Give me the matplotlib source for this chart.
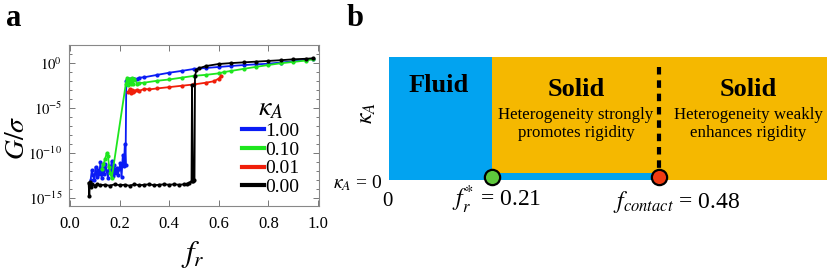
import numpy as np
import matplotlib
matplotlib.use("Agg")
import matplotlib.pyplot as plt
from matplotlib.ticker import FixedLocator, NullFormatter, FixedFormatter

plt.rcParams['font.family'] = ['Liberation Serif', 'DejaVu Serif']
plt.rcParams['mathtext.fontset'] = 'stix'

# ---------------- data (panel a): log10(G/sigma) vs f_r ----------------
kappa_labels = ["1.00", "0.10", "0.01", "0.00"]
series_colors = ["#0a1cf5", "#1ee61e", "#f01e0a", "#000000"]

fr_k100 = [0.083, 0.088, 0.093, 0.098, 0.103, 0.108, 0.113, 0.118, 0.123, 0.128,
           0.133, 0.138, 0.143, 0.148, 0.153, 0.158, 0.163, 0.168, 0.173, 0.178,
           0.183, 0.188, 0.193, 0.198, 0.203, 0.208, 0.213, 0.218, 0.221, 0.224,
           0.227, 0.229, 0.232, 0.236, 0.24, 0.245, 0.25, 0.26, 0.27, 0.28, 0.3,
           0.35, 0.4, 0.45, 0.5, 0.55, 0.6, 0.65, 0.7, 0.75, 0.8, 0.85, 0.9,
           0.95, 0.98]
lg_k100 = [-13.0, -11.9, -12.4, -13.0, -11.5, -12.6, -11.9, -12.3, -11.0, -12.8,
           -11.6, -12.3, -11.2, -12.0, -12.7, -11.4, -12.1, -10.9, -12.5, -11.3,
           -12.2, -11.6, -12.4, -11.8, -11.1, -12.6, -10.2, -11.4, -9.0, -11.3,
           -2.0, -1.85, -2.1, -1.8, -1.95, -1.75, -1.85, -1.7, -1.75, -1.6, -1.55,
           -1.3, -1.05, -0.85, -0.63, -0.52, -0.41, -0.3, -0.2, -0.12, -0.05,
           0.08, 0.22, 0.4, 0.52]

fr_k010 = [0.128, 0.135, 0.142, 0.148, 0.153, 0.158, 0.163, 0.168, 0.225, 0.23,
           0.235, 0.24, 0.245, 0.25, 0.255, 0.26, 0.27, 0.28, 0.3, 0.35, 0.4,
           0.45, 0.5, 0.55, 0.6, 0.62, 0.65, 0.7, 0.75, 0.8, 0.85, 0.9, 0.95, 0.98]
lg_k010 = [-11.8, -11.2, -10.6, -10.0, -10.3, -11.5, -12.2, -12.8, -2.3, -1.6,
           -2.4, -1.7, -2.3, -1.65, -2.3, -1.7, -2.25, -2.2, -2.15, -1.95, -1.8,
           -1.6, -1.4, -1.28, -1.12, -0.98, -0.85, -0.62, -0.4, -0.19, 0.0, 0.15,
           0.3, 0.45]

fr_k001 = [0.235, 0.24, 0.245, 0.25, 0.255, 0.26, 0.27, 0.28, 0.3, 0.32, 0.35,
           0.4, 0.45, 0.5, 0.55, 0.58, 0.6, 0.61]
lg_k001 = [-3.2, -2.9, -3.35, -3.0, -3.2, -3.05, -2.95, -3.05, -2.85, -2.9,
           -2.8, -2.65, -2.5, -2.35, -2.15, -2.0, -1.7, -1.4]

fr_k000 = [0.075, 0.078, 0.080, 0.083, 0.09, 0.1, 0.11, 0.12, 0.14, 0.16, 0.18,
           0.2, 0.22, 0.24, 0.26, 0.28, 0.3, 0.32, 0.34, 0.36, 0.38, 0.4, 0.42,
           0.44, 0.46, 0.47, 0.48, 0.49, 0.492, 0.496, 0.502, 0.504, 0.51, 0.52,
           0.55, 0.6, 0.65, 0.7, 0.75, 0.8, 0.85, 0.9, 0.95, 0.98]
lg_k000 = [-13.3, -14.8, -13.2, -13.7, -13.4, -13.6, -13.45, -13.55, -13.5,
           -13.6, -13.45, -13.55, -13.5, -13.6, -13.45, -13.55, -13.5, -13.45,
           -13.55, -13.5, -13.45, -13.5, -13.45, -13.5, -13.45, -13.4, -13.3,
           -13.1, -2.4, -13.1, -13.0, -1.4, -0.74, -0.55, -0.3, -0.08, 0.02,
           0.1, 0.18, 0.26, 0.34, 0.44, 0.5, 0.55]

# ---------------- data (panel b) ----------------
phase_names = ["Fluid", "Solid", "Solid"]
phase_notes = ["", "Heterogeneity strongly\npromotes rigidity",
               "Heterogeneity weakly\nenhances rigidity"]
fr_star = 0.21
f_contact = 0.48

W, H = 831, 272
fig = plt.figure(figsize=(W / 100, H / 100), dpi=100)


def fx(px):
    return px / W


def fy(py):
    return 1 - py / H


# ---------------- panel a ----------------
axl, axr, axt, axb = 69, 319, 45, 206
ax = fig.add_axes([fx(axl), fy(axb), fx(axr) - fx(axl), fy(axt) - fy(axb)])
all_fr = [fr_k100, fr_k010, fr_k001, fr_k000]
all_lg = [lg_k100, lg_k010, lg_k001, lg_k000]
for frs, lgs, col, lab in zip(all_fr, all_lg, series_colors, kappa_labels):
    ax.plot(frs, 10.0 ** np.array(lgs), '-o', color=col, lw=1.3, ms=3.0,
            mew=0, label=lab)
ax.set_yscale('log')
ax.set_xlim(-0.004, 1.004)
ax.set_ylim(10 ** -15.86, 10 ** 2.03)
ax.set_xticks([0.0, 0.2, 0.4, 0.6, 0.8, 1.0])
ax.set_xticklabels(["0.0", "0.2", "0.4", "0.6", "0.8", "1.0"])
ax.yaxis.set_major_locator(FixedLocator([1e-15, 1e-10, 1e-5, 1e0]))
ax.yaxis.set_major_formatter(FixedFormatter([r'$10^{-15}$', r'$10^{-10}$',
                                             r'$10^{-5}$', r'$10^{0}$']))
ax.yaxis.set_minor_locator(FixedLocator([10.0 ** k for k in range(-15, 3)]))
ax.yaxis.set_minor_formatter(NullFormatter())
ax.tick_params(which='both', direction='in', top=True, right=True,
               color='#777777', width=0.7)
ax.tick_params(axis='x', labelsize=12, pad=7)
ax.tick_params(axis='y', labelsize=10.5, pad=5)
ax.tick_params(which='major', length=4)
ax.tick_params(which='minor', length=2.5)
for sp in ax.spines.values():
    sp.set_color('#888888')
    sp.set_linewidth(0.8)
ax.set_xlabel(r'$f_r$', fontsize=22)
ax.set_ylabel(r'$G/\sigma$', fontsize=20)
ax.xaxis.set_label_coords((193 - axl) / (axr - axl), -(255 - axb) / (axb - axt))
ax.yaxis.set_label_coords(-(69 - 17) / (axr - axl), (axb - 138) / (axb - axt))
ax.xaxis.label.set_va('center')
ax.yaxis.label.set_va('center')

leg = ax.legend(title=r'$\kappa_A$', loc='lower right', fontsize=14,
                title_fontsize=20, frameon=False, handlelength=1.1,
                handletextpad=0.1, labelspacing=0.05, borderaxespad=0.2,
                bbox_to_anchor=(0.97, -0.01))
leg._legend_box.sep = 1
for h in leg.get_lines():
    h.set_linewidth(3)
    h.set_marker('')

fig.text(fx(14), fy(19), 'a', fontsize=22, fontweight='bold', ha='center',
         va='center')
fig.text(fx(355), fy(19), 'b', fontsize=22, fontweight='bold', ha='center',
         va='center')

# ---------------- panel b ----------------
bl, br, bt, bb = 389, 827, 57, 180
axb2 = fig.add_axes([fx(bl), fy(bb), fx(br) - fx(bl), fy(bt) - fy(bb)])
axb2.set_xlim(bl, br)
axb2.set_ylim(bb, bt)
axb2.axis('off')
blue = '#02a3f0'
gold = '#f5b800'
x_star, x_contact = 492, 659
axb2.add_patch(plt.Rectangle((bl, bt), br - bl, bb - bt, color=blue, lw=0))
axb2.add_patch(plt.Rectangle((x_star, bt), br - x_star, 173 - bt, color=gold,
                             lw=0))
axb2.add_patch(plt.Rectangle((x_contact, 173), br - x_contact, bb - 173,
                             color=gold, lw=0))
axb2.plot([x_contact, x_contact], [67, 173], color='black', lw=3,
          dashes=(1.8, 1.4))
axb2.plot([x_star], [176.5], 'o', ms=11, mfc='#5ec83c', mec='black', mew=1.6,
          clip_on=False, zorder=5)
axb2.plot([x_contact], [176.5], 'o', ms=11, mfc='#f03c12', mec='black',
          mew=1.6, clip_on=False, zorder=5)

name_pos = [(439, 86), (576, 89), (748, 89)]
for (px, py), name in zip(name_pos, phase_names):
    fig.text(fx(px), fy(py), name, fontsize=19, fontweight='bold',
             ha='center', va='center')
note_pos = [None, (576, 124), (748, 124)]
for pos, note in zip(note_pos, phase_notes):
    if pos is None:
        continue
    fig.text(fx(pos[0]), fy(pos[1]), note, fontsize=12.2, ha='center',
             va='center', linespacing=1.15)

fig.text(fx(368), fy(113), r'$\kappa_A$', fontsize=17, rotation=90,
         ha='center', va='center')
fig.text(fx(383), fy(183), r'$\kappa_A$ = 0', fontsize=14, ha='right',
         va='center')
fig.text(fx(387), fy(202), '0', fontsize=15, ha='center', va='center')
fig.text(fx(497), fy(200), r'$f_r^{*}$ = %.2f' % fr_star, fontsize=17,
         ha='center', va='center')
fig.text(fx(677), fy(202), r'$f_{contact}$ = %.2f' % f_contact, fontsize=17,
         ha='center', va='center')

fig.savefig('out.png', dpi=100)
